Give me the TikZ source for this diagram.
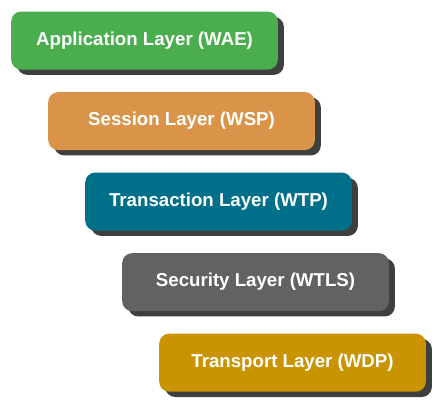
\documentclass[tikz,border=0pt]{standalone}
\usepackage{fontspec}
\setmainfont{Liberation Sans}
\usepackage{tikz}
\usetikzlibrary{positioning,shadows}

\definecolor{wae}{HTML}{4AAE4F}
\definecolor{wsp}{HTML}{D9944A}
\definecolor{wtp}{HTML}{00708A}
\definecolor{wtls}{HTML}{626262}
\definecolor{wdp}{HTML}{C99400}
\definecolor{ombre}{HTML}{3F3F3F}

\begin{document}
\begin{tikzpicture}[
            node distance=16.5pt,
            every node/.style={rounded corners=7.5pt, minimum width=200pt,
                minimum height=43.5pt, inner sep=0pt, text=white,
                font=\fontsize{14pt}{16pt}\selectfont\bfseries,
                drop shadow={shadow xshift=4.5pt, shadow yshift=-4pt,
                    fill=ombre, opacity=1}},
            couche/.style={fill=#1}]
            \useasboundingbox (0,0) rectangle (327pt,-300pt);
            \node[couche=wae]  (l1) at (108.4pt,-30.4pt)   {Application Layer (WAE)};
            \node[couche=wsp]  (l2) [below=of l1, xshift=27.75pt] {Session Layer (WSP)};
            \node[couche=wtp]  (l3) [below=of l2, xshift=27.75pt] {Transaction Layer (WTP)};
            \node[couche=wtls] (l4) [below=of l3, xshift=27.75pt] {Security Layer (WTLS)};
            \node[couche=wdp]  (l5) [below=of l4, xshift=27.75pt] {Transport Layer (WDP)};
        \end{tikzpicture}
\end{document}
